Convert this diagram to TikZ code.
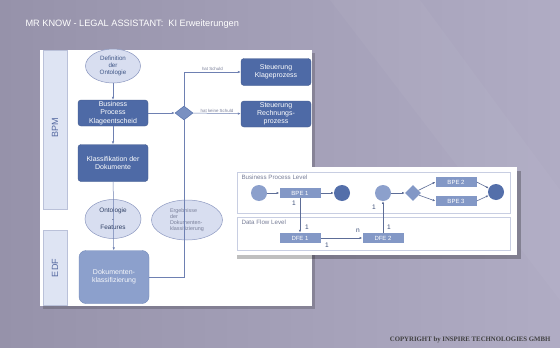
\documentclass[tikz,border=0pt]{standalone}
\usepackage{fontspec}
\setmainfont{Liberation Sans}
\newfontfamily\copyfont{Liberation Serif}
\usetikzlibrary{arrows.meta,shapes.geometric}
\definecolor{backleft}{RGB}{150,146,170}
\definecolor{backright}{RGB}{176,172,196}
\definecolor{boxdark}{RGB}{78,106,166}
\definecolor{boxmid}{RGB}{140,160,204}
\definecolor{ovalfill}{RGB}{216,222,240}
\definecolor{ovalline}{RGB}{140,152,192}
\definecolor{lanefill}{RGB}{222,228,243}
\definecolor{linecol}{RGB}{110,128,178}
\definecolor{lanetext}{RGB}{84,104,160}
\definecolor{softtext}{RGB}{120,126,152}
\definecolor{levelline}{RGB}{200,206,226}

\begin{document}
\begin{tikzpicture}[x=1pt, y=-1pt,
    flow/.style={draw=linecol, line width=0.5pt},
    arr/.style={flow, -{Latex[length=3pt,width=2.4pt]}},
    darkbox/.style={rectangle, rounded corners=3pt, fill=boxdark, draw=boxdark!85!black,
      text=white, align=center, minimum width=70pt, inner sep=1pt,
      font=\fontsize{7}{8.2}\selectfont},
    oval/.style={ellipse, fill=ovalfill, draw=ovalline, line width=0.5pt, align=center,
      inner sep=0pt, font=\fontsize{6.2}{7.2}\selectfont},
    lanebox/.style={fill=lanefill, draw=ovalline!60, line width=0.4pt},
    lanelabel/.style={rotate=90, text=lanetext, font=\fontsize{9}{10}\selectfont},
    tinylabel/.style={text=softtext, font=\fontsize{4.4}{5}\selectfont, inner sep=1pt},
    level/.style={draw=levelline, line width=0.5pt},
    levellabel/.style={anchor=west, text=softtext, font=\fontsize{6.2}{7}\selectfont},
    element/.style={rectangle, fill=boxmid!85!boxdark, text=white, minimum width=41pt,
      minimum height=10.5pt, inner sep=0pt, font=\fontsize{6}{7}\selectfont},
    event/.style={circle, fill=boxmid, minimum size=16pt, inner sep=0pt},
    eventend/.style={circle, fill=boxdark!90!boxmid, minimum size=16pt, inner sep=0pt},
    small/.style={-{Latex[length=2.6pt,width=2.2pt]}, draw=linecol!85!black, line width=0.6pt},
    mult/.style={text=boxdark!70!black, font=\fontsize{6.6}{7}\selectfont, inner sep=0pt}]

  % backdrop
  \fill[left color=backleft, right color=backright] (0,0) rectangle (560,348);
  \fill[white, opacity=0.035] (330,0) -- (420,0) -- (560,190) -- (560,300) -- cycle;
  \node[anchor=west, text=white, font=\fontsize{9.2}{10}\selectfont] (title) at (22,24)
    {MR KNOW - LEGAL ASSISTANT:\hspace{5pt}KI Erweiterungen};

  % main panel with lanes
  \fill[black, opacity=0.18] (43,53) rectangle (315,309);
  \fill[white] (40,50) rectangle (312,306);
  \draw[lanebox] (43,50) rectangle (67,209);
  \draw[lanebox] (43,230) rectangle (67,305);
  \node[lanelabel] (bpm) at (55,128) {BPM};
  \node[lanelabel] (edf) at (55,268) {EDF};

  \node[oval, minimum width=55pt, minimum height=34pt, text=boxdark!80!black] (defonto)
    at (113,66) {Definition\\der\\Ontologie};
  \node[darkbox, minimum height=26pt] (process) at (113,113)
    {Business\\Process\\Klageentscheid};
  \node[darkbox, minimum height=37pt] (klass) at (113,163)
    {Klassifikation der\\Dokumente};
  \node[diamond, fill=boxmid!70!boxdark, draw=boxdark, line width=0.4pt, inner sep=0pt,
    minimum width=18pt, minimum height=14pt] (gate) at (184,113) {};
  \node[darkbox, minimum height=27pt] (klage) at (276,72)
    {Steuerung\\Klageprozess};
  \node[darkbox, minimum height=26pt] (rechnung) at (276,114)
    {Steuerung\\Rechnungs-\\prozess};
  \node[oval, minimum width=56pt, minimum height=39pt, text=boxdark!60!black,
    font=\fontsize{6.4}{7}\selectfont] (features)
    at (113,219) {Ontologie\\[1.5pt]-\\[1.5pt]Features};
  \node[oval, minimum width=71pt, minimum height=40pt, text=softtext, align=left,
    font=\fontsize{5.4}{6}\selectfont] (results) at (187,220)
    {Ergebnisse\\der\\Dokumenten-\\klassifizierung};
  \node[darkbox, fill=boxmid, draw=boxdark!80, rounded corners=7pt, minimum height=53pt,
    text=white!92!boxmid] (dokklass) at (114,277) {Dokumenten-\\klassifizierung};

  \draw[arr] (defonto) -- (process);
  \draw[arr] (process) -- (klass);
  \draw[arr] (process) -- (gate);
  \draw[arr] (gate.north) |- (klage) node[tinylabel, above, pos=0.75] {hat Schuld};
  \draw[arr] (gate) -- (rechnung) node[tinylabel, above, midway] {hat keine Schuld};
  \draw[arr] (klass) -- (dokklass);
  \draw[flow] (dokklass.east) -| (gate.south);

  % inset: process and data flow levels
  \fill[black, opacity=0.25] (237,171) rectangle (521,259);
  \fill[white] (234,167) rectangle (517,255);
  \draw[level] (237,172) rectangle (510,213);
  \draw[level] (237,217) rectangle (510,250);
  \node[levellabel] (bpl) at (238,177) {Business Process Level};
  \node[levellabel] (dfl) at (238,222) {Data Flow Level};

  \node[event] (bstart) at (259,193) {};
  \node[element] (bpe1) at (300,193) {BPE 1};
  \node[eventend] (bend) at (342,193) {};
  \node[event] (bjoin) at (383,193) {};
  \node[diamond, fill=boxmid!85!boxdark, inner sep=0pt, minimum size=16pt] (bgate)
    at (413,193) {};
  \node[element] (bpe2) at (456,182) {BPE 2};
  \node[element] (bpe3) at (456,201) {BPE 3};
  \node[eventend] (bfinish) at (496,192) {};
  \node[element] (dfe1) at (300,238) {DFE 1};
  \node[element] (dfe2) at (383,238) {DFE 2};

  \draw[small] (bstart) -- (bpe1);
  \draw[small] (bpe1) -- (bend);
  \draw[small] (bjoin) -- (bgate);
  \draw[small] (bgate) -- (bpe2.west);
  \draw[small] (bgate) -- (bpe3.west);
  \draw[small] (bpe2.east) -- (bfinish);
  \draw[small] (bpe3.east) -- (bfinish);
  \draw[small] (bpe1) -- (dfe1);
  \draw[small] (dfe1) -- (dfe2);
  \draw[small] (dfe2) -- (bjoin);

  \foreach \x/\y/\t [count=\i] in {294/203/1, 307/227/1, 327/245/1, 358/231/n,
      389/227/1, 374/207/1}
    \node[mult] (mult\i) at (\x,\y) {\t};

  \node[anchor=east, text=black!75, font=\copyfont\bfseries\fontsize{6.8}{7}\selectfont]
    (copyright) at (554,340) {COPYRIGHT by INSPIRE TECHNOLOGIES GMBH};
\end{tikzpicture}
\end{document}
